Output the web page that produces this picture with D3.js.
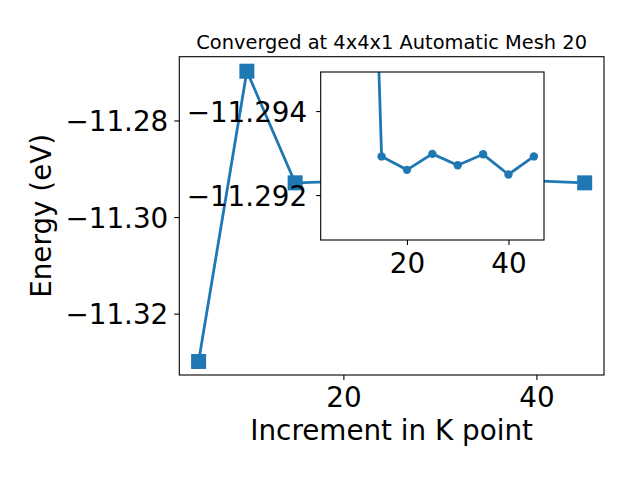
<!DOCTYPE html>
<html><head><meta charset="utf-8">
<script src="https://cdn.jsdelivr.net/npm/d3@7"></script>
<style>body{margin:0;background:#fff} text{font-family:"DejaVu Sans",sans-serif}</style>
</head><body><svg id="c" width="640" height="480"></svg>
<script>
const kPoints=[5,10,15,20,25,30,35,40,45];
const energy=[-11.3299,-11.2698,-11.29292,-11.29260,-11.29298,-11.29271,-11.29297,-11.29249,-11.29292];
const insetK=[10,15,20,25,30,35,40,45];
const insetE=[-11.312,-11.29292,-11.29260,-11.29298,-11.29271,-11.29297,-11.29249,-11.29292];
const xTicks=[20,40];
const yTicks=[-11.32,-11.30,-11.28];
const insetXTicks=[20,40];
const insetYTicks=[-11.294,-11.292];
const title="Converged at 4x4x1 Automatic Mesh 20";
const xLabel="Increment in K point";
const yLabel="Energy (eV)";

const color="#1f77b4";
const svg=d3.select("#c");
svg.append("rect").attr("width",640).attr("height",480).attr("fill","#fff");

const L=179.3,R=604,T=56.7,B=375;
const x=d3.scaleLinear([3,47],[L,R]);
const y=d3.scaleLinear([-11.3327,-11.2668],[B,T]);
const main=d3.zip(kPoints,energy);

const defs=svg.append("defs");
defs.append("clipPath").attr("id","mclip").append("rect").attr("x",L).attr("y",T).attr("width",R-L).attr("height",B-T);

const gm=svg.append("g").attr("clip-path","url(#mclip)");
gm.append("path").datum(main).attr("fill","none").attr("stroke",color).attr("stroke-width",2.8)
  .attr("d",d3.line().x(d=>x(d[0])).y(d=>y(d[1])));
const sq=15;
gm.selectAll("rect.m").data(main).join("rect").attr("class","m")
  .attr("x",d=>x(d[0])-sq/2).attr("y",d=>y(d[1])-sq/2).attr("width",sq).attr("height",sq).attr("fill",color);

svg.append("rect").attr("x",L).attr("y",T).attr("width",R-L).attr("height",B-T)
  .attr("fill","none").attr("stroke","#000").attr("stroke-width",1.1);

function styleAxis(g,fs){
  g.select(".domain").remove();
  g.selectAll(".tick line").attr("stroke","#000").attr("stroke-width",1.1);
  g.selectAll(".tick text").attr("fill","#000").attr("font-size",fs).attr("font-family","DejaVu Sans, sans-serif");
}
const fsTick=27.8;
const gx=svg.append("g").attr("transform",`translate(0,${B})`)
  .call(d3.axisBottom(x).tickValues(xTicks).tickSize(5).tickPadding(7.3).tickFormat(d3.format("d")));
styleAxis(gx,fsTick);
const gy=svg.append("g").attr("transform",`translate(${L},0)`)
  .call(d3.axisLeft(y).tickValues(yTicks).tickSize(5).tickPadding(6).tickFormat(d3.format(".2f")));
styleAxis(gy,fsTick);
gy.selectAll(".tick text").attr("dy","0.36em");

// inset
const IL=320.7,IR=544,IT=72,IB=240;
const xi=d3.scaleLinear([3,47],[IL,IR]);
const yi=d3.scaleLinear([-11.29493,-11.29093],[IT,IB]);
const ins=d3.zip(insetK,insetE);
defs.append("clipPath").attr("id","iclip").append("rect").attr("x",IL).attr("y",IT).attr("width",IR-IL).attr("height",IB-IT);
svg.append("rect").attr("x",IL).attr("y",IT).attr("width",IR-IL).attr("height",IB-IT).attr("fill","#fff");
const gi=svg.append("g").attr("clip-path","url(#iclip)");
gi.append("path").datum(ins).attr("fill","none").attr("stroke",color).attr("stroke-width",2.8)
  .attr("d",d3.line().x(d=>xi(d[0])).y(d=>yi(d[1])));
gi.selectAll("circle").data(ins).join("circle")
  .attr("cx",d=>xi(d[0])).attr("cy",d=>yi(d[1])).attr("r",4.2).attr("fill",color);
svg.append("rect").attr("x",IL).attr("y",IT).attr("width",IR-IL).attr("height",IB-IT)
  .attr("fill","none").attr("stroke","#000").attr("stroke-width",1.1);
const gix=svg.append("g").attr("transform",`translate(0,${IB})`)
  .call(d3.axisBottom(xi).tickValues(insetXTicks).tickSize(5).tickPadding(8.6).tickFormat(d3.format("d")));
styleAxis(gix,fsTick);
const giy=svg.append("g").attr("transform",`translate(${IL},0)`)
  .call(d3.axisLeft(yi).tickValues(insetYTicks).tickSize(4.5).tickPadding(9).tickFormat(d3.format(".3f")));
styleAxis(giy,fsTick);
giy.selectAll(".tick text").attr("dy","0.36em");

// texts
svg.append("text").attr("x",(L+R)/2).attr("y",48.5).attr("text-anchor","middle")
  .attr("font-size",19.4).attr("fill","#000").text(title);
svg.append("text").attr("x",(L+R)/2).attr("y",440).attr("text-anchor","middle")
  .attr("font-size",27.8).attr("fill","#000").text(xLabel);
svg.append("text").attr("transform",`translate(51,${(T+B)/2}) rotate(-90)`).attr("text-anchor","middle")
  .attr("font-size",27.8).attr("fill","#000").text(yLabel);
</script></body></html>
